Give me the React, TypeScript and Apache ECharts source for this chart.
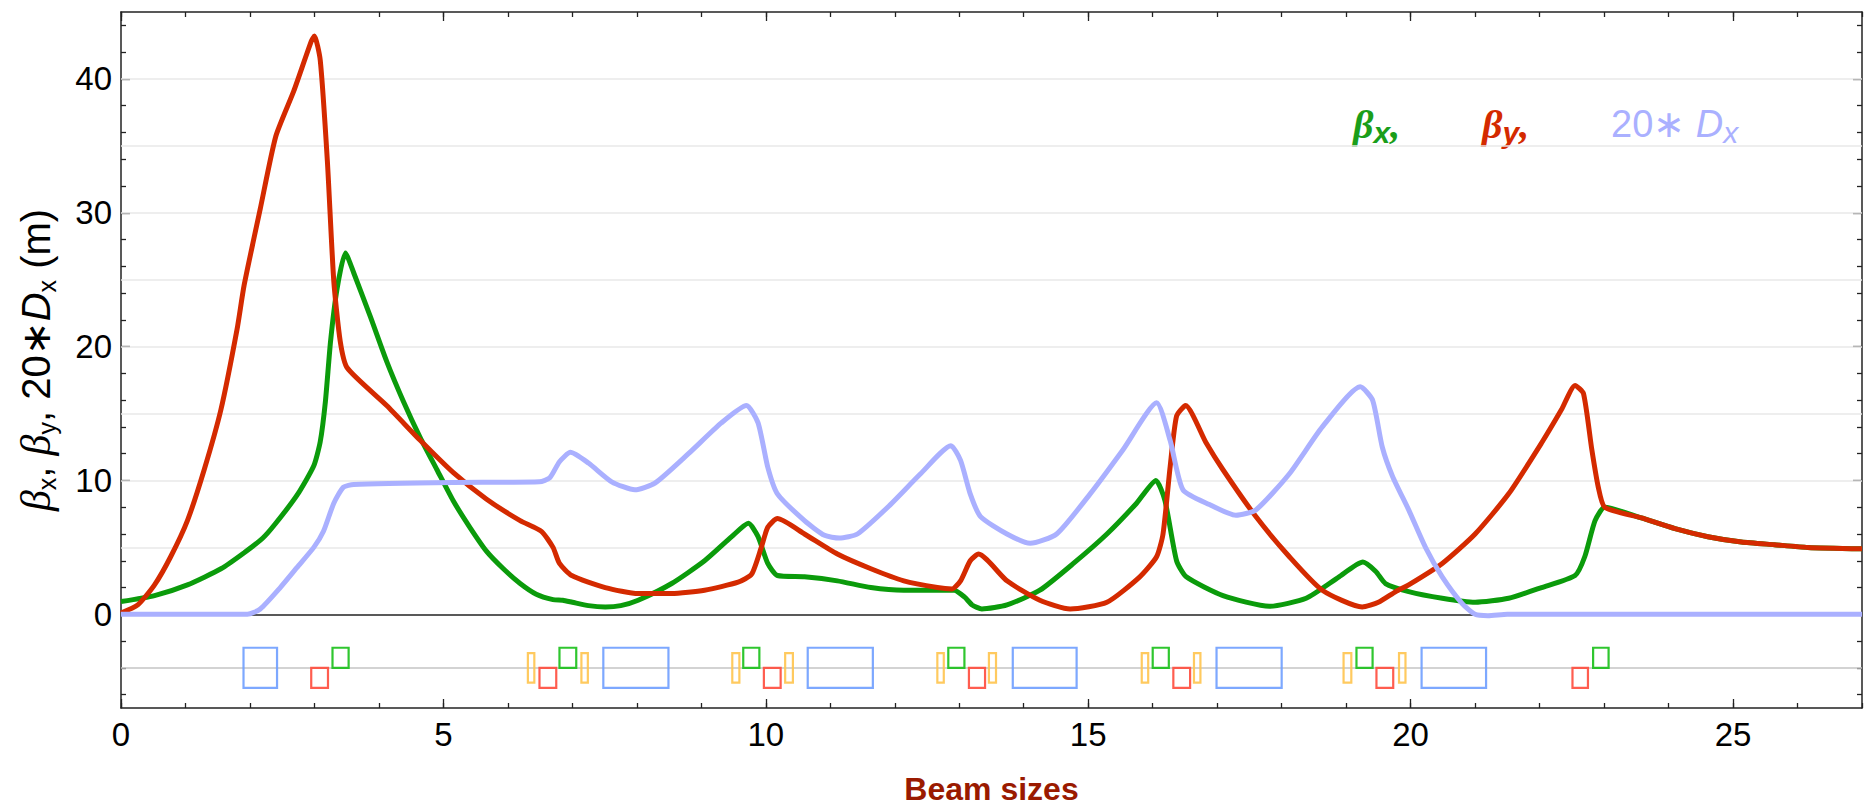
import React, { useEffect, useRef } from "react";
import * as echarts from "echarts";

// ---- Data ----
const BETA_X: [number, number][] = [
  [0, 0.95], [0.52, 1.4], [1.03, 2.2], [1.55, 3.4], [1.91, 4.6], [2.2, 5.7], [2.4, 6.8],
  [2.73, 8.9], [2.99, 11.1], [3.09, 12.9], [3.17, 15.9], [3.25, 20.4], [3.35, 24.3],
  [3.48, 27.0], [3.61, 25.5], [3.87, 22.2], [4.12, 18.9], [4.38, 15.9], [4.64, 13.2],
  [4.9, 10.8], [5.15, 8.5], [5.41, 6.5], [5.67, 4.7], [5.93, 3.4], [6.19, 2.3], [6.44, 1.5],
  [6.7, 1.1], [6.85, 1.05], [7.0, 0.9], [7.25, 0.65], [7.51, 0.55], [7.75, 0.65], [8.02, 1.05],
  [8.54, 2.3], [9.05, 4.0], [9.47, 5.8], [9.73, 6.8], [9.88, 5.8], [10.03, 3.8], [10.18, 2.9],
  [10.6, 2.8], [11.11, 2.5], [11.63, 2.0], [12.14, 1.8], [12.92, 1.8], [13.08, 1.3],
  [13.2, 0.7], [13.35, 0.4], [13.74, 0.7], [14.25, 1.8], [14.77, 3.8], [15.29, 6.0],
  [15.75, 8.3], [16.05, 10.0], [16.19, 8.5], [16.37, 4.0], [16.52, 2.8], [17.09, 1.4],
  [17.81, 0.6], [18.38, 1.2], [18.89, 2.8], [19.26, 3.9], [19.46, 3.2], [19.61, 2.3],
  [19.97, 1.7], [20.49, 1.2], [21.0, 0.9], [21.52, 1.2], [22.03, 2.0], [22.55, 2.9],
  [22.7, 4.3], [22.86, 7.0], [23.01, 8.0], [23.58, 7.2], [24.1, 6.4], [24.61, 5.8],
  [25.13, 5.4], [25.64, 5.2], [26.16, 5.0], [27, 4.9],
];

const BETA_Y: [number, number][] = [
  [0, 0.1], [0.26, 0.7], [0.52, 2.2], [0.77, 4.3], [1.03, 7.0], [1.29, 10.8], [1.55, 15.3],
  [1.8, 21.3], [1.91, 24.6], [2.16, 30.3], [2.4, 35.7], [2.68, 39.1], [2.95, 42.8], [3.0, 43.2],
  [3.09, 41.4], [3.2, 33.9], [3.3, 24.9], [3.4, 20.4], [3.51, 18.4], [4.12, 15.6], [4.64, 13.0],
  [5.15, 10.6], [5.67, 8.6], [6.19, 7.0], [6.52, 6.2], [6.7, 5.0], [6.8, 3.8], [6.99, 2.9],
  [7.51, 2.0], [8.02, 1.55], [8.54, 1.55], [9.05, 1.8], [9.57, 2.4], [9.78, 3.0], [9.93, 5.0],
  [10.03, 6.5], [10.18, 7.15], [10.6, 6.0], [11.11, 4.5], [11.63, 3.4], [12.14, 2.5],
  [12.66, 2.0], [12.89, 1.9], [13.02, 2.5], [13.17, 4.0], [13.3, 4.5], [13.74, 2.5],
  [14.25, 1.05], [14.72, 0.4], [15.29, 0.9], [15.8, 2.8], [16.06, 4.3], [16.16, 6.0],
  [16.27, 11.0], [16.37, 14.8], [16.51, 15.6], [16.83, 12.8], [17.09, 10.8], [17.6, 7.3],
  [18.12, 4.3], [18.63, 1.8], [19.25, 0.55], [19.5, 0.9], [19.77, 1.7], [19.97, 2.2],
  [20.49, 3.8], [21.0, 6.0], [21.52, 9.0], [22.03, 12.8], [22.34, 15.3], [22.55, 17.1],
  [22.68, 16.5], [22.81, 12.3], [22.91, 9.5], [23.01, 8.0], [23.58, 7.2], [24.1, 6.4],
  [24.61, 5.8], [25.13, 5.4], [25.64, 5.2], [26.16, 5.0], [27, 4.9],
];

const DISP_20: [number, number][] = [
  [0, 0], [1.96, 0], [2.16, 0.4], [2.47, 2.0], [2.73, 3.5], [2.99, 5.0], [3.14, 6.2],
  [3.3, 8.3], [3.45, 9.5], [3.61, 9.7], [5.15, 9.85], [6.49, 9.9], [6.65, 10.2], [6.8, 11.4],
  [6.97, 12.1], [7.25, 11.3], [7.61, 9.9], [7.97, 9.3], [8.28, 9.8], [8.8, 12.0], [9.31, 14.3],
  [9.7, 15.6], [9.88, 14.3], [10.03, 11.0], [10.18, 9.0], [10.6, 7.0], [10.91, 5.9],
  [11.14, 5.7], [11.42, 6.0], [11.89, 8.0], [12.4, 10.5], [12.87, 12.6], [13.02, 11.5],
  [13.17, 9.0], [13.33, 7.3], [13.74, 6.0], [14.1, 5.3], [14.51, 6.0], [15.03, 9.0],
  [15.54, 12.3], [16.06, 15.8], [16.27, 13.0], [16.47, 9.3], [16.88, 8.2], [17.29, 7.4],
  [17.6, 7.8], [18.12, 10.5], [18.63, 14.0], [19.22, 17.0], [19.41, 16.0], [19.56, 12.5],
  [19.72, 10.3], [19.97, 7.8], [20.23, 5.0], [20.49, 2.8], [20.8, 0.8], [21.0, 0],
  [21.2, -0.1], [21.5, 0], [27, 0],
];

// Lattice elements: [start, end] along s
const DIPOLES: [number, number][] = [
  [1.9, 2.42], [7.48, 8.49], [10.65, 11.66], [13.83, 14.82], [16.99, 18.0], [20.17, 21.17],
];
const QUAD_F: [number, number][] = [
  [3.28, 3.53], [6.8, 7.06], [9.65, 9.9], [12.83, 13.08], [16.0, 16.25], [19.16, 19.41], [22.83, 23.07],
];
const QUAD_D: [number, number][] = [
  [2.95, 3.21], [6.49, 6.75], [9.97, 10.23], [13.15, 13.4], [16.32, 16.58], [19.47, 19.73], [22.51, 22.75],
];
const SEXTUPOLES: [number, number][] = [
  [6.31, 6.41], [7.14, 7.24], [9.48, 9.59], [10.3, 10.42], [12.66, 12.76], [13.46, 13.57],
  [15.83, 15.93], [16.64, 16.74], [18.96, 19.08], [19.82, 19.92],
];
// vertical extents (in axis units) of each element kind
const DIPOLE_Y = [-2.5, -5.5];
const QUAD_F_Y = [-2.5, -4];
const QUAD_D_Y = [-4, -5.5];
const SEXT_Y = [-2.9, -5.1];
const LATTICE_BASE = -4;

// Ticks
const X_MAJOR = [0, 5, 10, 15, 20, 25];
const X_MINOR = [0, 1, 2, 3, 4, 5, 6, 7, 8, 9, 10, 11, 12, 13, 14, 15, 16, 17, 18, 19, 20, 21, 22, 23, 24, 25, 26, 27];
const Y_MAJOR = [0, 10, 20, 30, 40];
const Y_MINOR = [-6, -4, -2, 2, 4, 6, 8, 12, 14, 16, 18, 22, 24, 26, 28, 32, 34, 36, 38, 42, 44];
const GRID_LINES = [5, 10, 15, 20, 25, 30, 35, 40];

const GREEN = "#0b9b0b";
const RED = "#d42a00";
const BLUE = "#aab0ff";
const AXIS = "#222";
const SANS = "Liberation Sans, Arial, sans-serif";
const SERIF = "Liberation Serif, Times New Roman, serif";

function latticeSeries(items: [number, number][], ext: number[], color: string) {
  return {
    type: "custom",
    z: 2,
    silent: true,
    xAxisIndex: 0,
    yAxisIndex: 0,
    data: items.map(([a, b]) => [a, b, ext[0], ext[1]]),
    encode: { x: [0, 1], y: [2, 3] },
    renderItem: (_p: any, api: any) => {
      const p0 = api.coord([api.value(0), api.value(2)]);
      const p1 = api.coord([api.value(1), api.value(3)]);
      return {
        type: "rect",
        shape: { x: p0[0], y: p0[1], width: p1[0] - p0[0], height: p1[1] - p0[1] },
        style: { fill: "none", stroke: color, lineWidth: 2.2, opacity: 0.9 },
      };
    },
  };
}

function hLines(values: number[], color: string, width: number) {
  return {
    type: "line",
    z: 1,
    silent: true,
    xAxisIndex: 0,
    yAxisIndex: 0,
    data: [],
    markLine: {
      z: 1,
      zlevel: 0,
      silent: true,
      animation: false,
      symbol: ["none", "none"],
      label: { show: false },
      emphasis: { disabled: true },
      lineStyle: { color, width, type: "solid" },
      data: values.map((v) => ({ yAxis: v })),
    },
  };
}

function curve(name: string, data: [number, number][], color: string) {
  return {
    type: "line",
    name,
    z: 3,
    xAxisIndex: 0,
    yAxisIndex: 0,
    data,
    showSymbol: false,
    symbol: "none",
    smooth: 0.2,
    lineStyle: { color, width: 5 },
    itemStyle: { color },
  };
}

export default function App() {
  const ref = useRef<HTMLDivElement>(null);

  useEffect(() => {
    document.body.style.margin = "0";
    const chart = echarts.init(ref.current!, null, { renderer: "svg" });

    const tickAxisX = (position: string, values: number[], len: number, major: boolean) => ({
      type: "value",
      position,
      min: 0,
      max: 27,
      axisLine: { show: major, onZero: false, lineStyle: { color: AXIS, width: 1.5 } },
      axisTick: { show: true, inside: true, length: len, customValues: values, lineStyle: { color: AXIS, width: 1.3 } },
      axisLabel: { show: false },
      splitLine: { show: false },
    });
    const tickAxisY = (position: string, values: number[], len: number, major: boolean) => ({
      type: "value",
      position,
      min: -7,
      max: 45,
      axisLine: { show: major, onZero: false, lineStyle: { color: AXIS, width: 1.5 } },
      axisTick: { show: true, inside: true, length: len, customValues: values, lineStyle: { color: AXIS, width: 1.3 } },
      axisLabel: { show: false },
      splitLine: { show: false },
    });

    const option: any = {
      animation: false,
      backgroundColor: "#ffffff",
      grid: { left: 121, right: 8, top: 12, bottom: 102, containLabel: false },
      xAxis: [
        {
          ...tickAxisX("bottom", X_MAJOR, 9, true),
          axisLabel: {
            show: true,
            customValues: X_MAJOR,
            fontSize: 33,
            color: "#000",
            fontFamily: SANS,
            margin: 10,
          },
          name: "Beam sizes",
          nameLocation: "middle",
          nameGap: 65,
          nameTextStyle: { color: "#9a1a00", fontSize: 32, fontWeight: "bold", fontFamily: SANS },
        },
        tickAxisX("bottom", X_MINOR, 5, false),
        tickAxisX("top", X_MAJOR, 9, true),
        tickAxisX("top", X_MINOR, 5, false),
      ],
      yAxis: [
        {
          ...tickAxisY("left", Y_MAJOR, 9, true),
          axisLabel: {
            show: true,
            customValues: Y_MAJOR,
            fontSize: 33,
            color: "#000",
            fontFamily: SANS,
            margin: 9,
          },
          name: "{g|β}{s|x}{t|, }{g|β}{s|y}{t|, 20∗}{i|D}{s|x}{t| (m)}",
          nameLocation: "middle",
          nameRotate: 90,
          nameGap: 62,
          nameTextStyle: {
            color: "#000",
            fontSize: 40,
            fontFamily: SANS,
            rich: {
              g: { fontFamily: SERIF, fontStyle: "italic", fontSize: 42, lineHeight: 46, color: "#000" },
              s: { fontFamily: SANS, fontSize: 25, lineHeight: 25, verticalAlign: "bottom", color: "#000" },
              t: { fontFamily: SANS, fontSize: 40, lineHeight: 46, color: "#000" },
              i: { fontFamily: SANS, fontStyle: "italic", fontSize: 40, lineHeight: 46, color: "#000" },
            },
          },
        },
        tickAxisY("left", Y_MINOR, 5, false),
        tickAxisY("right", Y_MAJOR, 9, true),
        tickAxisY("right", Y_MINOR, 5, false),
      ],
      graphic: [
        {
          type: "text",
          x: 1353,
          y: 124,
          silent: true,
          style: {
            text: "{b|β}{s|x}{b|,}",
            verticalAlign: "middle",
            rich: {
              b: { fontFamily: SERIF, fontStyle: "italic", fontWeight: "bold", fontSize: 40, lineHeight: 46, fill: "#1a9e1a" },
              s: { fontFamily: SANS, fontStyle: "italic", fontWeight: "bold", fontSize: 30, lineHeight: 28, verticalAlign: "bottom", fill: "#1a9e1a" },
            },
          },
        },
        {
          type: "text",
          x: 1482,
          y: 124,
          silent: true,
          style: {
            text: "{b|β}{s|y}{b|,}",
            verticalAlign: "middle",
            rich: {
              b: { fontFamily: SERIF, fontStyle: "italic", fontWeight: "bold", fontSize: 40, lineHeight: 46, fill: RED },
              s: { fontFamily: SANS, fontStyle: "italic", fontWeight: "bold", fontSize: 30, lineHeight: 28, verticalAlign: "bottom", fill: RED },
            },
          },
        },
        {
          type: "text",
          x: 1611,
          y: 124,
          silent: true,
          style: {
            text: "{n|20∗ }{i|D}{s|x}",
            verticalAlign: "middle",
            rich: {
              n: { fontFamily: SANS, fontSize: 38, lineHeight: 46, fill: BLUE },
              i: { fontFamily: SANS, fontStyle: "italic", fontSize: 38, lineHeight: 46, fill: BLUE },
              s: { fontFamily: SANS, fontStyle: "italic", fontSize: 30, lineHeight: 28, verticalAlign: "bottom", fill: BLUE },
            },
          },
        },
      ],
      series: [
        hLines(GRID_LINES, "#e9e9e9", 1.5),
        hLines([LATTICE_BASE], "#c4c4c4", 1.5),
        hLines([0], AXIS, 1.5),
        latticeSeries(DIPOLES, DIPOLE_Y, "#6f9fff"),
        latticeSeries(QUAD_F, QUAD_F_Y, "#18c018"),
        latticeSeries(QUAD_D, QUAD_D_Y, "#ff4b3c"),
        latticeSeries(SEXTUPOLES, SEXT_Y, "#ffc44e"),
        curve("betaX", BETA_X, GREEN),
        curve("betaY", BETA_Y, RED),
        curve("20*Dx", DISP_20, BLUE),
      ],
    };

    chart.setOption(option);
    return () => chart.dispose();
  }, []);

  return <div ref={ref} style={{ width: 1870, height: 810 }} />;
}
